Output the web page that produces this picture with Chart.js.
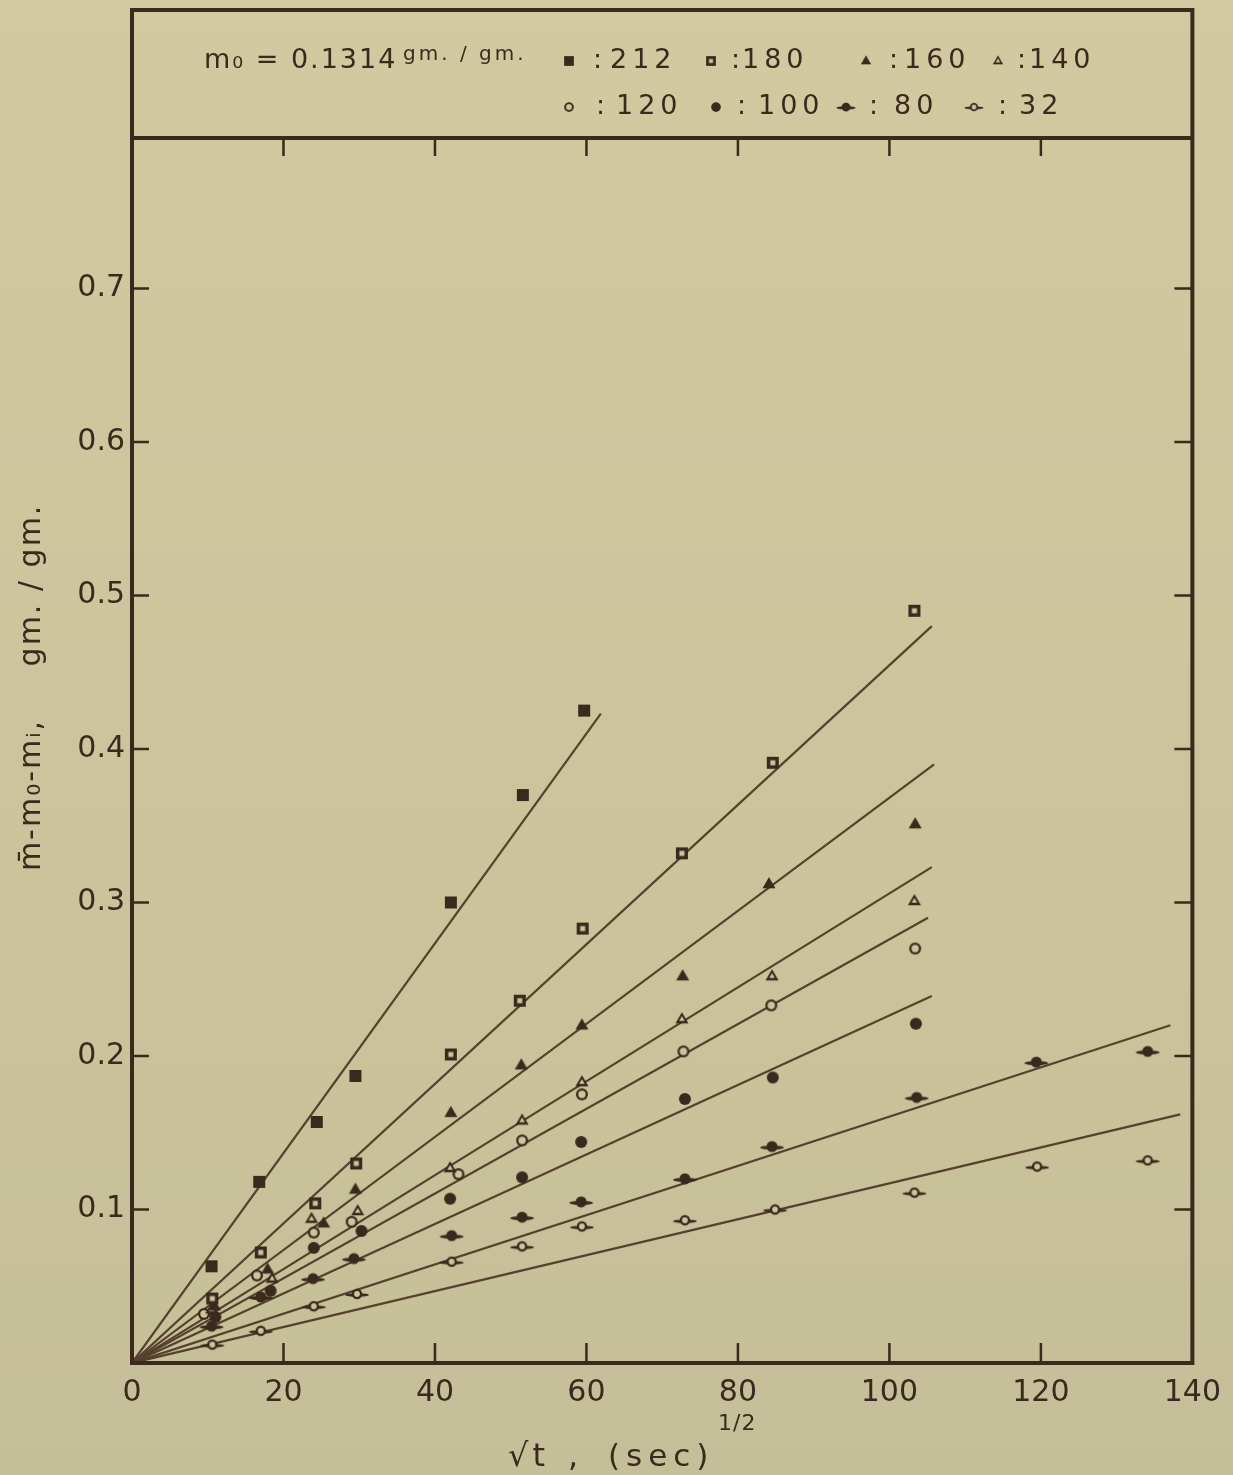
<!DOCTYPE html>
<html>
<head>
<meta charset="utf-8">
<script src="https://cdn.jsdelivr.net/npm/chart.js@4/dist/chart.umd.min.js"></script>
<style>
  html, body { margin: 0; padding: 0; background: #ccc49c; }
  canvas { display: block; }
</style>
</head>
<body>
<canvas id="chart" width="1233" height="1475"></canvas>
<script>
// series: sqrt(t) in (sec)^1/2, m - m0 - mi in gm./gm.
const seriesLabels = ['212', '180', '160', '140', '120', '100', '80', '32'];

const x212 = [10.5, 16.8, 24.4, 29.5, 42.1, 51.6, 59.7];
const y212 = [0.063, 0.118, 0.157, 0.187, 0.300, 0.370, 0.425];
const x180 = [10.6, 17.0, 24.2, 29.6, 42.1, 51.2, 59.5, 72.6, 84.6, 103.3];
const y180 = [0.042, 0.072, 0.104, 0.130, 0.201, 0.236, 0.283, 0.332, 0.391, 0.490];
const x160 = [10.9, 17.9, 25.3, 29.5, 42.1, 51.4, 59.4, 72.7, 84.1, 103.4];
const y160 = [0.037, 0.061, 0.091, 0.113, 0.163, 0.194, 0.220, 0.252, 0.312, 0.351];
const x140 = [10.5, 18.5, 23.7, 29.8, 42.0, 51.5, 59.4, 72.6, 84.5, 103.3];
const y140 = [0.035, 0.055, 0.094, 0.099, 0.127, 0.158, 0.183, 0.224, 0.252, 0.301];
const x120 = [9.5, 16.5, 24.0, 29.0, 43.1, 51.5, 59.4, 72.8, 84.4, 103.4];
const y120 = [0.032, 0.057, 0.085, 0.092, 0.123, 0.145, 0.175, 0.203, 0.233, 0.270];
const x100 = [11.0, 18.3, 24.0, 30.3, 42.0, 51.5, 59.3, 73.0, 84.6, 103.5];
const y100 = [0.030, 0.047, 0.075, 0.086, 0.107, 0.121, 0.144, 0.172, 0.186, 0.221];
const x80 = [10.5, 17.0, 23.9, 29.3, 42.2, 51.5, 59.3, 73.0, 84.5, 103.6, 119.4, 134.1];
const y80 = [0.024, 0.043, 0.055, 0.068, 0.083, 0.095, 0.105, 0.120, 0.141, 0.173, 0.196, 0.203];
const x32 = [10.6, 17.0, 24.0, 29.7, 42.2, 51.5, 59.4, 73.0, 84.9, 103.3, 119.5, 134.1];
const y32 = [0.012, 0.021, 0.037, 0.045, 0.066, 0.076, 0.089, 0.093, 0.100, 0.111, 0.128, 0.132];

// fitted lines, all drawn from the origin to these ends
const fitEndX = [61.9, 105.6, 105.9, 105.6, 105.1, 105.6, 137.1, 138.4];
const fitEndY = [0.423, 0.480, 0.390, 0.323, 0.290, 0.239, 0.220, 0.162];

const xTicks = [0, 20, 40, 60, 80, 100, 120, 140];
const yTicks = [0.1, 0.2, 0.3, 0.4, 0.5, 0.6, 0.7];

const xs = [x212, x180, x160, x140, x120, x100, x80, x32];
const ys = [y212, y180, y160, y140, y120, y100, y80, y32];
const markerKinds = ['fsq', 'osq', 'ftri', 'otri', 'ocirc', 'fcirc', 'ftail', 'otail'];

const INK = '#3a2a1d';
const LINE = '#56412f';
const PAPER = '#cdc59d';
const FONT = 'DejaVu Sans';

function makeMarker(kind) {
  const tail = kind.indexOf('tail') >= 0;
  const w = tail ? 26 : 16, h = 16;
  const c = document.createElement('canvas');
  c.width = w; c.height = h;
  const g = c.getContext('2d');
  const cx = w / 2, cy = h / 2;
  g.fillStyle = INK;
  function tri(r) {
    g.beginPath();
    g.moveTo(cx, cy - r);
    g.lineTo(cx - r * 0.93, cy + r * 0.62);
    g.lineTo(cx + r * 0.93, cy + r * 0.62);
    g.closePath();
    g.fill();
  }
  function disc(r) {
    g.beginPath();
    g.arc(cx, cy, r, 0, Math.PI * 2);
    g.fill();
  }
  if (kind === 'fsq') {
    g.fillRect(cx - 6, cy - 6, 12, 12);
  } else if (kind === 'osq') {
    g.fillRect(cx - 6, cy - 6, 12, 12);
    g.fillStyle = PAPER;
    g.fillRect(cx - 2.5, cy - 2.5, 5, 5);
  } else if (kind === 'ftri') {
    tri(7);
  } else if (kind === 'otri') {
    tri(7);
    g.fillStyle = PAPER;
    tri(3);
  } else if (kind === 'fcirc') {
    disc(6);
  } else if (kind === 'ocirc') {
    disc(6);
    g.fillStyle = PAPER;
    disc(3.7);
  } else if (kind === 'ftail') {
    g.beginPath();
    g.ellipse(cx, cy + 1, 12, 2, 0, 0, Math.PI * 2);
    g.fill();
    disc(5.5);
  } else if (kind === 'otail') {
    g.beginPath();
    g.ellipse(cx, cy + 1, 12, 1.8, 0, 0, Math.PI * 2);
    g.fill();
    disc(5.2);
    g.fillStyle = PAPER;
    disc(2.9);
  }
  return c;
}

const markers = markerKinds.map(makeMarker);

const datasets = [];
seriesLabels.forEach((lab, i) => {
  datasets.push({
    type: 'scatter',
    label: lab,
    data: xs[i].map((x, j) => ({ x: x, y: ys[i][j] })),
    pointStyle: markers[i],
    pointRadius: 6,
    order: 0
  });
  datasets.push({
    type: 'line',
    label: lab + ' fit',
    data: [{ x: 0, y: 0 }, { x: fitEndX[i], y: fitEndY[i] }],
    borderColor: LINE,
    borderWidth: 2.2,
    pointRadius: 0,
    fill: false,
    order: 1
  });
});

const paperPlugin = {
  id: 'paper',
  beforeDraw(chart) {
    const ctx = chart.ctx;
    const grad = ctx.createLinearGradient(0, 0, 0, chart.height);
    grad.addColorStop(0, '#d3c9a1');
    grad.addColorStop(0.5, '#ccc49c');
    grad.addColorStop(1, '#c5bf99');
    ctx.save();
    ctx.fillStyle = grad;
    ctx.fillRect(0, 0, chart.width, chart.height);
    ctx.restore();
  }
};

const framePlugin = {
  id: 'frame',
  afterDraw(chart) {
    const ctx = chart.ctx;
    const a = chart.chartArea;
    const sx = chart.scales.x, sy = chart.scales.y;
    const top = 10;
    ctx.save();
    ctx.strokeStyle = INK;
    ctx.lineCap = 'square';
    ctx.lineWidth = 4;
    ctx.beginPath();
    ctx.moveTo(a.left, top); ctx.lineTo(a.right, top);
    ctx.lineTo(a.right, a.bottom); ctx.lineTo(a.left, a.bottom);
    ctx.closePath();
    ctx.moveTo(a.left, a.top); ctx.lineTo(a.right, a.top);
    ctx.stroke();

    // inward tick marks
    ctx.lineWidth = 2.5;
    ctx.lineCap = 'butt';
    ctx.beginPath();
    xTicks.slice(1, -1).forEach(v => {
      const px = sx.getPixelForValue(v);
      ctx.moveTo(px, a.bottom); ctx.lineTo(px, a.bottom - 20);
      ctx.moveTo(px, a.top); ctx.lineTo(px, a.top + 18);
    });
    yTicks.forEach(v => {
      const py = sy.getPixelForValue(v);
      ctx.moveTo(a.left, py); ctx.lineTo(a.left + 17, py);
      ctx.moveTo(a.right, py); ctx.lineTo(a.right - 18, py);
    });
    ctx.stroke();

    ctx.fillStyle = INK;
    ctx.textBaseline = 'alphabetic';
    ctx.textAlign = 'left';

    // x title
    ctx.font = '32px "' + FONT + '"';
    ctx.letterSpacing = '4px';
    ctx.fillText('\u221At', 508, 1466);
    ctx.letterSpacing = '0px';
    ctx.fillText(',', 568, 1466);
    ctx.letterSpacing = '6px';
    ctx.font = '31px "' + FONT + '"';
    ctx.fillText('(sec)', 608, 1466);
    ctx.letterSpacing = '1px';
    ctx.font = '22px "' + FONT + '"';
    ctx.fillText('1/2', 718, 1430);

    // y title
    ctx.save();
    ctx.translate(40, 700);
    ctx.rotate(-Math.PI / 2);
    ctx.textAlign = 'center';
    ctx.font = '30px "' + FONT + '"';
    ctx.letterSpacing = '2px';
    ctx.fillText('m\u0304-m\u2080-m\u1d62,', -95, 0);
    ctx.fillText('gm. / gm.', 115, 0);
    ctx.restore();

    // legend box contents
    ctx.textBaseline = 'middle';
    ctx.font = '27px "' + FONT + '"';
    ctx.letterSpacing = '2px';
    ctx.fillText('m\u2080 = 0.1314', 204, 61);
    ctx.font = '20px "' + FONT + '"';
    ctx.letterSpacing = '3px';
    ctx.fillText('gm. / gm.', 403, 55);

    const row1 = 61, row2 = 107;
    const legendItems = [
      { m: 0, mx: 569, cx: 593, nx: 610, y: row1 },
      { m: 1, mx: 711, cx: 731, nx: 742, y: row1 },
      { m: 2, mx: 866, cx: 889, nx: 904, y: row1 },
      { m: 3, mx: 998, cx: 1017, nx: 1029, y: row1 },
      { m: 4, mx: 569, cx: 596, nx: 616, y: row2 },
      { m: 5, mx: 716, cx: 737, nx: 758, y: row2 },
      { m: 6, mx: 846, cx: 869, nx: 894, y: row2 },
      { m: 7, mx: 974, cx: 998, nx: 1019, y: row2 }
    ];
    legendItems.forEach(it => {
      const img = markers[it.m];
      const sc = 0.8;
      ctx.drawImage(img, it.mx - img.width * sc / 2, it.y - img.height * sc / 2,
        img.width * sc, img.height * sc);
      ctx.font = '27px "' + FONT + '"';
      ctx.letterSpacing = '0px';
      ctx.fillText(':', it.cx, it.y);
      ctx.letterSpacing = '5px';
      ctx.fillText(seriesLabels[it.m], it.nx, it.y);
    });
    ctx.letterSpacing = '0px';
    ctx.restore();
  }
};

new Chart(document.getElementById('chart'), {
  type: 'scatter',
  data: { datasets: datasets },
  options: {
    responsive: false,
    animation: false,
    devicePixelRatio: 1,
    events: [],
    layout: { padding: { top: 138, right: 39, bottom: 0, left: 0 } },
    plugins: {
      legend: { display: false },
      tooltip: { enabled: false }
    },
    scales: {
      x: {
        type: 'linear',
        min: 0,
        max: 140,
        afterBuildTicks: s => { s.ticks = xTicks.map(v => ({ value: v })); },
        afterFit: s => { s.height = 112; },
        grid: { display: false, drawTicks: false },
        border: { display: false },
        ticks: {
          color: INK,
          font: { family: FONT, size: 30 },
          padding: 12,
          maxRotation: 0,
          autoSkip: false,
          callback: v => String(v)
        }
      },
      y: {
        type: 'linear',
        min: 0,
        max: 0.798,
        afterBuildTicks: s => { s.ticks = yTicks.map(v => ({ value: v })); },
        afterFit: s => { s.width = 132; },
        grid: { display: false, drawTicks: false },
        border: { display: false },
        ticks: {
          color: INK,
          font: { family: FONT, size: 30 },
          padding: 7,
          autoSkip: false,
          callback: v => v.toFixed(1)
        }
      }
    }
  },
  plugins: [paperPlugin, framePlugin]
});
</script>
</body>
</html>
